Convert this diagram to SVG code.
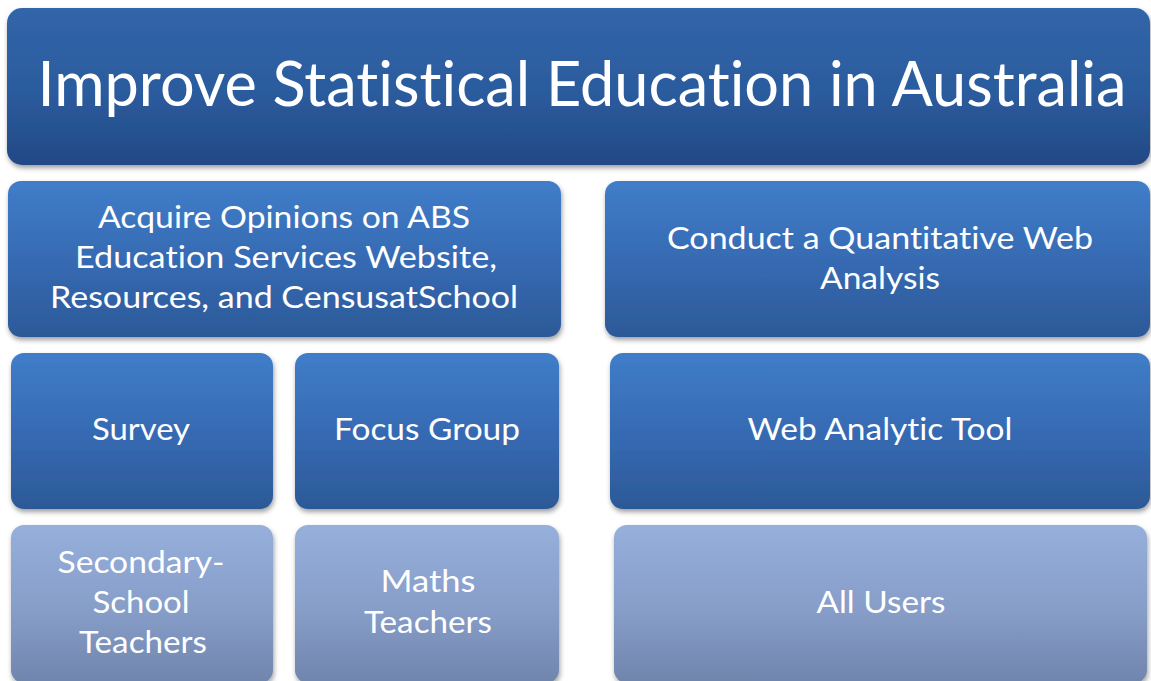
<svg xmlns="http://www.w3.org/2000/svg" width="1151" height="681" viewBox="0 0 1151 681">
<defs>
<linearGradient id="gTitle" x1="0" y1="0" x2="0" y2="1">
<stop offset="0" stop-color="#3165aa"/>
<stop offset="0.55" stop-color="#2b5b9d"/>
<stop offset="1" stop-color="#224985"/>
</linearGradient>
<linearGradient id="gMid" x1="0" y1="0" x2="0" y2="1">
<stop offset="0" stop-color="#407dc9"/>
<stop offset="0.55" stop-color="#3569b1"/>
<stop offset="1" stop-color="#2c5997"/>
</linearGradient>
<linearGradient id="gLow" x1="0" y1="0" x2="0" y2="1">
<stop offset="0" stop-color="#96afdb"/>
<stop offset="0.55" stop-color="#869dc8"/>
<stop offset="1" stop-color="#7085ac"/>
</linearGradient>
<filter id="sh" x="-5%" y="-10%" width="110%" height="125%">
<feDropShadow dx="1" dy="3" stdDeviation="2.5" flood-color="#000" flood-opacity="0.38"/>
</filter>
</defs>
<style>
text{font-family:Lato,"Open Sans","Liberation Sans",sans-serif;fill:#ffffff;text-anchor:middle;font-variant-ligatures:none;font-feature-settings:"liga" 0,"clig" 0}
.t{font-size:61px}
.m{font-size:31px}
.l{font-size:31px}
.title{fill:url(#gTitle);filter:url(#sh)}
.mid{fill:url(#gMid);filter:url(#sh)}
.low{fill:url(#gLow);filter:url(#sh)}
</style>
<rect width="1151" height="681" fill="#ffffff"/>
<g id="connectors"/>
<g id="title">
<rect class="title" x="7" y="8" width="1143" height="157" rx="15"/>
<text class="t" x="582" y="106" textLength="1089" lengthAdjust="spacingAndGlyphs">Improve Statistical Education in Australia</text>
</g>
<g id="acquire">
<rect class="mid" x="8" y="181" width="553" height="156" rx="13"/>
<text class="m" x="284" y="228" textLength="372" lengthAdjust="spacingAndGlyphs">Acquire Opinions on ABS</text>
<text class="m" x="286" y="268" textLength="422" lengthAdjust="spacingAndGlyphs">Education Services Website,</text>
<text class="m" x="284" y="308" textLength="468" lengthAdjust="spacingAndGlyphs">Resources, and CensusatSchool</text>
</g>
<g id="conduct">
<rect class="mid" x="605" y="181" width="545" height="156" rx="13"/>
<text class="m" x="880" y="249" textLength="426" lengthAdjust="spacingAndGlyphs">Conduct a Quantitative Web</text>
<text class="m" x="880" y="289" textLength="120" lengthAdjust="spacingAndGlyphs">Analysis</text>
</g>
<g id="survey">
<rect class="mid" x="11" y="353" width="262" height="156" rx="13"/>
<text class="m" x="141" y="440" textLength="98" lengthAdjust="spacingAndGlyphs">Survey</text>
</g>
<g id="focus-group">
<rect class="mid" x="295" y="353" width="264" height="156" rx="13"/>
<text class="m" x="427" y="440" textLength="186" lengthAdjust="spacingAndGlyphs">Focus Group</text>
</g>
<g id="web-analytic-tool">
<rect class="mid" x="610" y="353" width="540" height="156" rx="13"/>
<text class="m" x="880" y="440" textLength="265" lengthAdjust="spacingAndGlyphs">Web Analytic Tool</text>
</g>
<g id="secondary-school-teachers">
<rect class="low" x="11" y="525" width="262" height="158" rx="13"/>
<text class="l" x="141" y="573" textLength="167" lengthAdjust="spacingAndGlyphs">Secondary-</text>
<text class="l" x="141" y="613" textLength="97" lengthAdjust="spacingAndGlyphs">School</text>
<text class="l" x="143" y="653" textLength="128" lengthAdjust="spacingAndGlyphs">Teachers</text>
</g>
<g id="maths-teachers">
<rect class="low" x="295" y="525" width="264" height="158" rx="13"/>
<text class="l" x="428" y="592" textLength="95" lengthAdjust="spacingAndGlyphs">Maths</text>
<text class="l" x="428" y="633" textLength="128" lengthAdjust="spacingAndGlyphs">Teachers</text>
</g>
<g id="all-users">
<rect class="low" x="614" y="525" width="533" height="158" rx="13"/>
<text class="l" x="881" y="613" textLength="129" lengthAdjust="spacingAndGlyphs">All Users</text>
</g>
</svg>
